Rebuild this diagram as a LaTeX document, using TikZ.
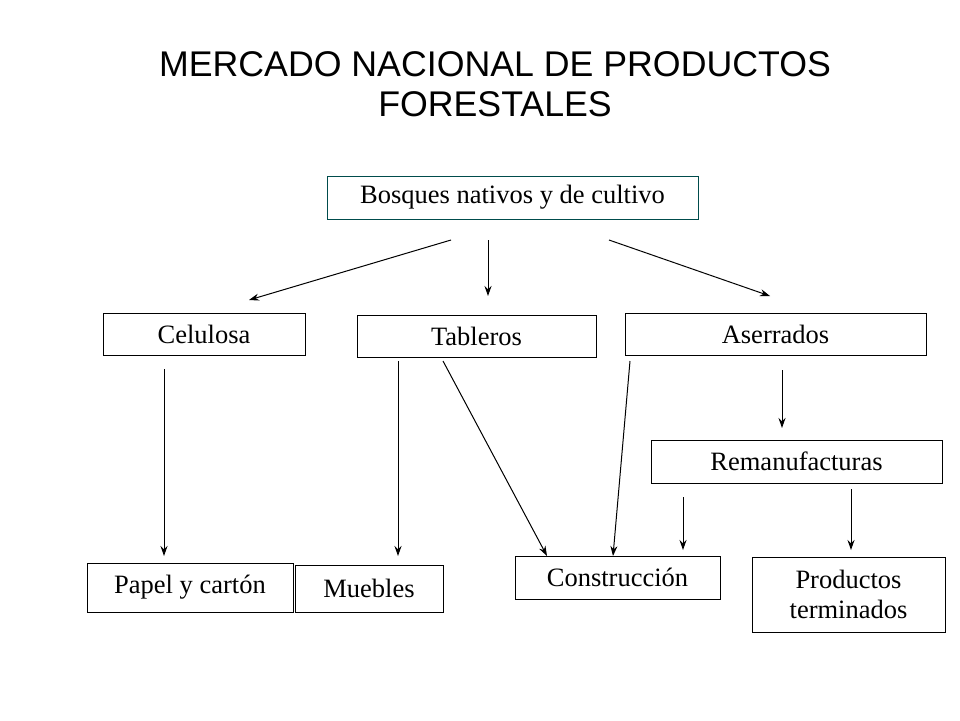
\documentclass[tikz,border=0pt]{standalone}
\usepackage{fontspec}
\setmainfont{Liberation Serif}
\newfontfamily\titlefont{Liberation Sans}
\usetikzlibrary{arrows.meta}
\begin{document}
\begin{tikzpicture}[x=1pt,y=-1pt,
 box/.style={draw,line width=1pt,inner sep=2pt,font=\fontsize{26.5}{30}\selectfont},
 arr/.style={-{Stealth[length=10pt,width=7pt]},line width=1pt}]
\useasboundingbox[fill=white] (0,0) rectangle (960,720);
\node[font=\titlefont\fontsize{35.7}{40}\selectfont,align=center] (title) at (495,84) {MERCADO NACIONAL DE PRODUCTOS\\FORESTALES};
\node[box,draw=teal!60!black,minimum width=371,minimum height=43] (bos) at (512.5,197.5) {Bosques nativos y de cultivo};
\node[box,minimum width=202,minimum height=42] (cel) at (204,334) {Celulosa};
\node[box,minimum width=239,minimum height=42] (tab) at (476.5,336) {Tableros};
\node[box,minimum width=301,minimum height=42] (ase) at (775.5,334) {Aserrados};
\node[box,minimum width=291,minimum height=43] (rem) at (796.5,461.5) {Remanufacturas};
\node[box,minimum width=206,minimum height=49] (pap) at (190,587.5) {Papel y cartón};
\node[box,minimum width=148,minimum height=47] (mue) at (369,588.5) {Muebles};
\node[box,minimum width=205,minimum height=43] (con) at (617.5,577.5) {Construcción};
\node[box,minimum width=193,minimum height=75,align=center] (pro) at (848.5,594.5) {Productos\\terminados};
\foreach \n/\a/\b/\c/\d in {a/451/240/249/300, b/488/240/488/296, c/609/240/770/296,
 d/164/369/164/556, e/398/361/398/556, f/443/361/547/556, g/630/361/613/556,
 h/782/370/782/428, i/683/497/683/550, j/851/489/851/550}{
 \coordinate (s\n) at (\a,\b); \coordinate (t\n) at (\c,\d);
 \draw[arr] (s\n) -- (t\n);}
\end{tikzpicture}
\end{document}
